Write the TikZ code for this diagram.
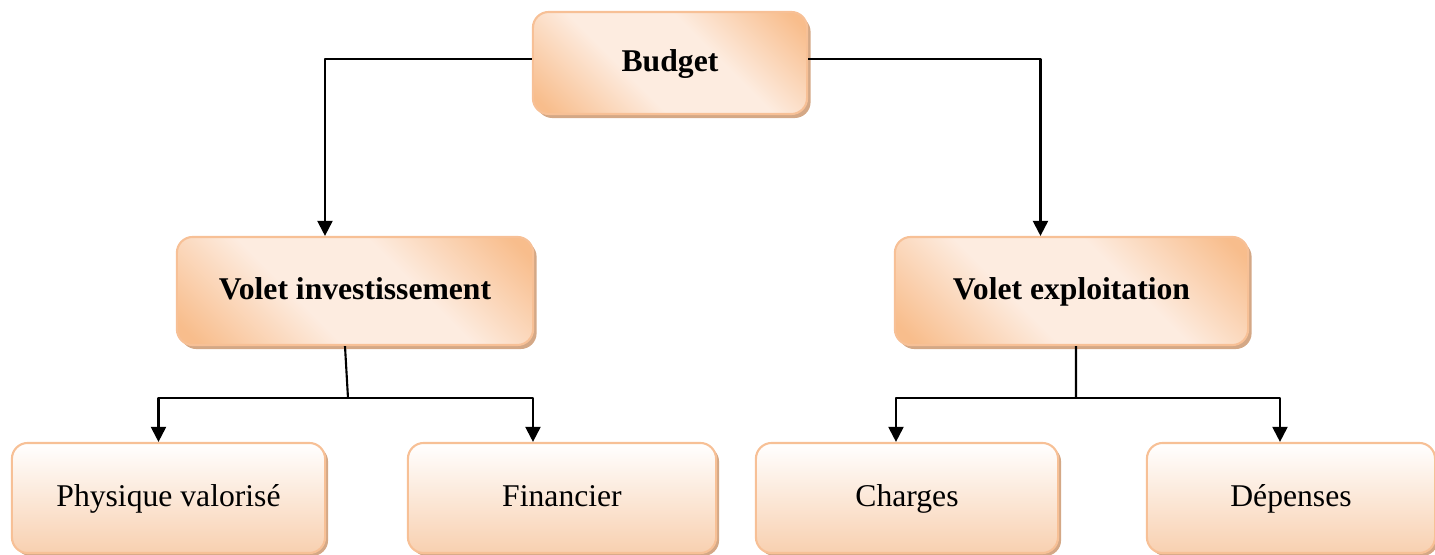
\documentclass[tikz,border=0pt]{standalone}
\usepackage{fontspec}
\setmainfont{Liberation Serif}
\usetikzlibrary{arrows.meta,shadows}
\definecolor{boxorange}{RGB}{248,189,140}
\definecolor{boxlight}{RGB}{253,236,224}
\definecolor{boxedge}{RGB}{247,192,150}
\definecolor{boxshadow}{RGB}{212,168,134}
\definecolor{leafpeach}{RGB}{248,208,176}
% broad light band, orange only towards the corners
\pgfdeclarehorizontalshading{headshade}{100bp}{
    color(0bp)=(boxorange); color(18bp)=(boxorange);
    color(40bp)=(boxlight); color(60bp)=(boxlight);
    color(82bp)=(boxorange); color(100bp)=(boxorange)}
\tikzset{
    orgchart/.style={
        x=0.01cm, y=-0.01cm,
        >={Triangle[width=1.5mm,length=1.5mm]},
        line join=round,
        font=\fontsize{9}{11}\selectfont,
    },
    headbox/.style={
        draw=boxedge, line width=0.6pt, rounded corners=4.5pt, inner sep=0pt,
        shading=headshade, shading angle=45,
        drop shadow={shadow xshift=0.35mm, shadow yshift=-0.4mm, fill=boxshadow, opacity=1},
        text height=1.45ex, text depth=0.45ex,
        font=\fontsize{9}{11}\selectfont\bfseries,
    },
    leafbox/.style={
        draw=boxedge, line width=0.6pt, rounded corners=4.5pt, inner sep=0pt,
        top color=white, bottom color=leafpeach,
        drop shadow={shadow xshift=0.3mm, shadow yshift=-0.3mm, fill=boxshadow, opacity=1},
        text height=1.45ex, text depth=0.45ex,
    },
    link/.style={->, line width=0.6pt},
}

\begin{document}
\begin{tikzpicture}[orgchart]
    \useasboundingbox (0,0) rectangle (1435,555);
    % top level
    \node[headbox, minimum width=2.74cm, minimum height=1.02cm] (budget) at (670,63) {Budget};
    % second level
    \node[headbox, minimum width=3.56cm, minimum height=1.08cm] (invest) at (355,291) {Volet investissement};
    \node[headbox, minimum width=3.53cm, minimum height=1.08cm] (exploit) at (1071.5,291) {Volet exploitation};
    % leaves
    \node[leafbox, minimum width=3.13cm, minimum height=1.10cm] (physique) at (168.5,498) {Physique valorisé};
    \node[leafbox, minimum width=3.08cm, minimum height=1.10cm] (financier) at (562,498) {Financier};
    \node[leafbox, minimum width=3.02cm, minimum height=1.10cm] (charges) at (907,498) {Charges};
    \node[leafbox, minimum width=2.88cm, minimum height=1.10cm] (depenses) at (1291,498) {Dépenses};

    \draw[link] ([yshift=0.4mm]budget.west) -| ([xshift=-3mm]invest.north);
    \draw[link] ([yshift=0.4mm]budget.east) -| ([xshift=-3.1mm]exploit.north);

    \coordinate (investsplit) at (348,398);
    \coordinate (exploitsplit) at (1076,398);
    \draw[line width=0.6pt] ([xshift=-1mm]invest.south) -- (investsplit);
    \draw[line width=0.6pt] ([xshift=0.45mm]exploit.south) -- (exploitsplit);
    \draw[link] (investsplit) -| ([xshift=-1mm]physique.north);
    \draw[link] (investsplit) -| ([xshift=-2.9mm]financier.north);
    \draw[link] (exploitsplit) -| ([xshift=-1.1mm]charges.north);
    \draw[link] (exploitsplit) -| ([xshift=-1.1mm]depenses.north);
\end{tikzpicture}
\end{document}
